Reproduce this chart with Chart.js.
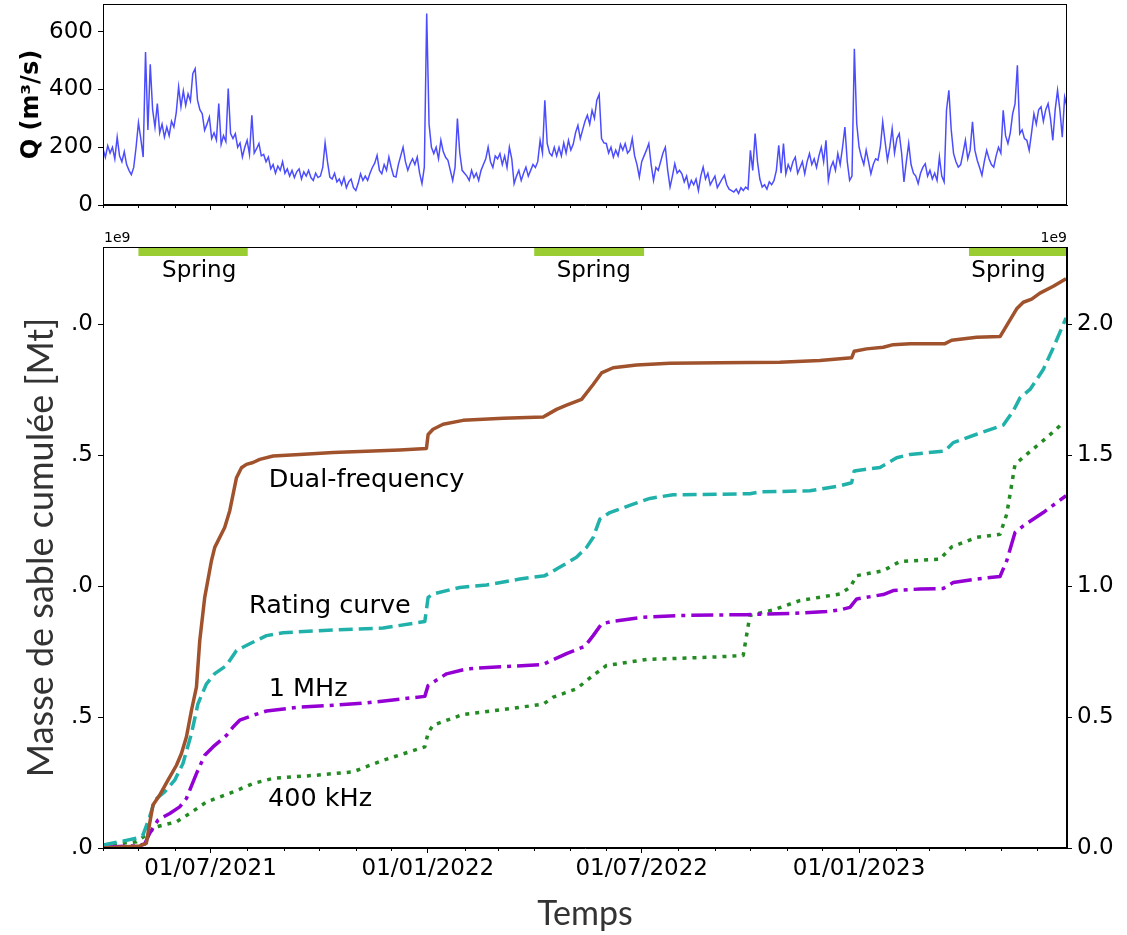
<!DOCTYPE html>
<html>
<head>
<meta charset="utf-8">
<script src="https://cdn.jsdelivr.net/npm/chart.js@4.4.1/dist/chart.umd.min.js"></script>
<style>
  html, body { margin: 0; padding: 0; background: #fff; }
  #wrap { position: relative; width: 1127px; height: 935px; overflow: hidden; background: #fff; }
  canvas { position: absolute; left: 0; }
  #qCanvas { top: 0; }
  #massCanvas { top: 220px; }
</style>
</head>
<body>
<div id="wrap">
  <canvas id="qCanvas" width="1127" height="220"></canvas>
  <canvas id="massCanvas" width="1127" height="715"></canvas>
</div>
<script>
// ---- time axis: days counted from 01/04/2021 ----
const startDate = [2021, 3, 1];
const xMaxDay = 816;

// ---- discharge Q (m3/s), one value every 2 days from day 0 ----
const qStepDays = 2;
const qValues = [
  195, 165, 205, 180, 200, 160, 235, 170, 150, 185,
  140, 120, 105, 130, 200, 285, 230, 166, 530, 260,
  487, 330, 270, 351, 250, 280, 235, 270, 240, 290,
  270, 320, 409, 340, 395, 345, 385, 360, 455, 472,
  363, 330, 316, 259, 280, 305, 230, 250, 225, 351,
  210, 240, 220, 403, 247, 230, 247, 200, 215, 166,
  200, 224, 175, 311, 180, 195, 213, 170, 175, 150,
  166, 125, 140, 110, 135, 120, 150, 110, 125, 100,
  120, 95, 115, 125, 90, 115, 100, 120, 95, 85,
  110, 95, 100, 130, 215, 150, 97, 90, 110, 80,
  90, 70, 95, 60, 80, 90, 60, 50, 75, 108,
  85, 100, 85, 110, 130, 145, 172, 120, 108, 140,
  120, 166, 130, 100, 97, 140, 170, 200, 150, 120,
  143, 160, 140, 166, 110, 74, 131, 663, 280, 200,
  178, 200, 160, 224, 185, 165, 155, 120, 85, 130,
  299, 180, 120, 110, 100, 85, 120, 95, 110, 85,
  120, 140, 160, 200, 150, 130, 170, 160, 178, 140,
  170, 130, 200, 160, 74, 100, 120, 85, 110, 131,
  100, 120, 140, 130, 150, 224, 180, 363, 213, 180,
  170, 200, 170, 200, 170, 215, 180, 224, 190, 210,
  250, 276, 230, 260, 290, 311, 280, 328, 300, 363,
  383, 230, 215, 213, 180, 200, 166, 190, 170, 210,
  190, 213, 180, 190, 230, 170, 140, 97, 150, 170,
  190, 213, 140, 85, 130, 120, 150, 180, 200, 120,
  62, 100, 143, 110, 120, 108, 80, 100, 60, 85,
  70, 90, 50, 100, 131, 90, 110, 70, 85, 100,
  60, 75, 90, 103, 70, 55, 50, 45, 55, 40,
  60, 50, 62, 55, 189, 120, 247, 150, 90, 62,
  70, 55, 80, 70, 85, 120, 207, 110, 213, 108,
  140, 120, 150, 166, 110, 130, 150, 108, 150, 178,
  140, 160, 130, 170, 200, 150, 224, 85, 130, 150,
  120, 178, 140, 200, 270, 150, 85, 100, 541, 282,
  200, 166, 140, 190, 150, 108, 140, 160, 155, 200,
  288, 220, 155, 200, 264, 180, 230, 247, 180, 80,
  150, 213, 140, 110, 100, 74, 110, 130, 143, 100,
  120, 90, 110, 85, 166, 100, 80, 328, 397, 260,
  178, 150, 131, 140, 180, 224, 160, 190, 288, 190,
  155, 130, 103, 150, 189, 160, 140, 131, 170, 200,
  180, 328, 240, 213, 250, 316, 350, 484, 247, 260,
  230, 224, 189, 250, 316, 280, 330, 340, 290, 330,
  351, 300, 224, 330, 397, 328, 235, 374, 340
];

// ---- cumulative sand mass (x 1e9 kg) ----
const dualDays = [0, 31.1, 36.7, 39.5, 42.3, 48, 55, 62.2, 66.4, 70.6,
  74.9, 79.1, 81.9, 86.1, 91.8, 94.6, 103, 107.3, 113, 117.2,
  121.4, 127, 132.7, 144, 166.6, 194.8, 251.2, 273.8, 275.2, 279.4,
  287.9, 304.8, 338.7, 372.6, 375.4, 383.9, 392.4, 405.1, 414.9, 422,
  431.8, 451.6, 479.8, 522.2, 572.9, 606.8, 633.7, 635.9, 646.4, 660.5,
  668.9, 683.1, 712.7, 718.4, 739.5, 759.3, 773.4, 779, 786.1, 793.1,
  804.4, 815.2];
const dualValues = [0, 0.008, 0.018, 0.094, 0.164, 0.202, 0.259, 0.316, 0.361, 0.424,
  0.526, 0.614, 0.792, 0.957, 1.097, 1.148, 1.224, 1.288, 1.414, 1.452,
  1.465, 1.472, 1.484, 1.497, 1.503, 1.510, 1.520, 1.526, 1.579, 1.599,
  1.618, 1.633, 1.641, 1.646, 1.653, 1.675, 1.691, 1.713, 1.770, 1.814,
  1.834, 1.844, 1.851, 1.853, 1.855, 1.862, 1.872, 1.897, 1.906, 1.912,
  1.922, 1.926, 1.926, 1.939, 1.950, 1.953, 2.059, 2.084, 2.096, 2.119,
  2.145, 2.174];

const ratingDays = [0, 14.1, 28.3, 33.9, 39.5, 43.8, 52.2, 60.7, 67.7, 74.9,
  80.4, 87.6, 94.6, 104.5, 113, 124.2, 138.4, 152.4, 194.8, 237.1,
  272.4, 275.2, 279.4, 302, 324.6, 352.8, 374, 383.9, 400.8, 409.3,
  414.9, 420.6, 429, 448.8, 462.9, 482.6, 522.2, 547.6, 556.1, 598.4,
  623.8, 633.7, 635.9, 657.7, 671.8, 683.1, 712.7, 719.7, 739.5, 762.1,
  770.5, 776.2, 784.7, 795.9, 804.4, 815.2];
const ratingValues = [0.011, 0.024, 0.037, 0.050, 0.119, 0.183, 0.214, 0.259, 0.323, 0.437,
  0.551, 0.627, 0.666, 0.697, 0.754, 0.780, 0.811, 0.822, 0.833, 0.840,
  0.865, 0.957, 0.970, 0.995, 1.004, 1.027, 1.040, 1.065, 1.110, 1.148,
  1.186, 1.256, 1.281, 1.313, 1.335, 1.349, 1.351, 1.353, 1.360, 1.364,
  1.383, 1.395, 1.440, 1.453, 1.490, 1.503, 1.516, 1.548, 1.580, 1.615,
  1.669, 1.719, 1.751, 1.827, 1.910, 2.024];

const mhzDays = [0, 28.3, 35.3, 39.5, 46.6, 56.5, 64.9, 70.6, 79.1, 86.1,
  93.1, 104.5, 110.1, 115.7, 127, 138.4, 166.6, 194.8, 223, 272.4,
  275.2, 290.8, 307.7, 333.1, 372.6, 381.1, 392.4, 407.9, 414.9, 422,
  431.8, 457.2, 488.3, 544.8, 584.3, 612.5, 623.8, 632.3, 638, 660.5,
  668.9, 691.5, 711.3, 719.7, 739.5, 759.3, 765, 772, 779, 795.9,
  815.2];
const mhzValues = [0.003, 0.008, 0.015, 0.056, 0.107, 0.132, 0.157, 0.189, 0.284, 0.354,
  0.386, 0.430, 0.462, 0.488, 0.507, 0.523, 0.538, 0.545, 0.554, 0.579,
  0.621, 0.665, 0.684, 0.691, 0.701, 0.719, 0.742, 0.770, 0.811, 0.856,
  0.866, 0.881, 0.888, 0.891, 0.896, 0.903, 0.909, 0.919, 0.951, 0.968,
  0.983, 0.989, 0.991, 1.014, 1.027, 1.037, 1.097, 1.205, 1.230, 1.281,
  1.345];

const khzDays = [0, 16.9, 28.3, 36.7, 45.2, 62.2, 73.4, 87.6, 110.1, 127,
  144, 180.7, 211.7, 237.1, 272.4, 275.2, 279.4, 304.8, 347.2, 372.6,
  381.1, 400.8, 414.9, 426.2, 460.1, 516.5, 541.9, 547.6, 567.3, 589.9,
  623.8, 632.3, 638, 660.5, 674.6, 708.4, 718.4, 739.5, 759.3, 765,
  772, 781.9, 798.8, 812.9];
const khzValues = [0.008, 0.018, 0.024, 0.050, 0.081, 0.100, 0.132, 0.176, 0.214, 0.246,
  0.266, 0.278, 0.291, 0.335, 0.386, 0.440, 0.469, 0.510, 0.534, 0.549,
  0.576, 0.608, 0.659, 0.697, 0.720, 0.729, 0.735, 0.888, 0.909, 0.945,
  0.970, 0.995, 1.040, 1.059, 1.094, 1.103, 1.150, 1.186, 1.198, 1.275,
  1.465, 1.503, 1.567, 1.624];

// ---- spring periods (days) ----
const springStart = [30, 365, 733];
const springEnd = [122.5, 458, 816];
const springLabelDay = [50, 384, 735];
const springLabelValue = [2.182, 2.182, 2.182];

// ---- curve labels ----
const curveLabels = ['Dual-frequency', 'Rating curve', '1 MHz', '400 kHz'];
const curveLabelDay = [140.3, 123.6, 140.3, 139.7];
const curveLabelValue = [1.380, 0.897, 0.581, 0.161];

// ---- axis ticks ----
const qTicks = [0, 200, 400, 600];
const massTicks = [0, 0.5, 1.0, 1.5, 2.0];

// ---------------------------------------------------------------
const DAY_MS = 86400000;
const startUTC = Date.UTC(startDate[0], startDate[1], startDate[2]);
const months = [];
for (let y = 2021; y <= 2023; y++) {
  for (let m = 0; m < 12; m++) {
    const d = (Date.UTC(y, m, 1) - startUTC) / DAY_MS;
    if (d >= 0 && d <= xMaxDay) {
      months.push({ day: d, major: m === 0 || m === 6,
        label: '01/' + String(m + 1).padStart(2, '0') + '/' + y });
    }
  }
}
const majorMonths = months.filter(m => m.major);

Chart.defaults.font.family = 'DejaVu Sans';
Chart.defaults.color = '#000';

const BLACK = '#000';
const TITLE_FONT = 'Lato';

// frame + minor month ticks
const framePlugin = {
  id: 'frame',
  afterDraw(chart) {
    const { ctx, chartArea: a } = chart;
    const xs = chart.scales.x;
    ctx.save();
    ctx.strokeStyle = BLACK;
    ctx.lineWidth = 1;
    ctx.strokeRect(Math.round(a.left) + 0.5, Math.round(a.top) + 0.5,
      Math.round(a.right - a.left) - 1, Math.round(a.bottom - a.top) - 1);
    ctx.beginPath();
    months.filter(m => !m.major).forEach(m => {
      const px = Math.round(xs.getPixelForValue(m.day)) + 0.5;
      ctx.moveTo(px, a.bottom);
      ctx.lineTo(px, a.bottom + 3);
    });
    ctx.stroke();
    ctx.restore();
  }
};

// spring bands, curve labels and offset text
const massTextPlugin = {
  id: 'massText',
  afterDatasetsDraw(chart) {
    const { ctx, chartArea: a } = chart;
    const xs = chart.scales.x, ys = chart.scales.y;
    ctx.save();
    ctx.fillStyle = '#9acd32';
    springStart.forEach((s, i) => {
      const x0 = xs.getPixelForValue(s);
      const x1 = xs.getPixelForValue(springEnd[i]);
      ctx.fillRect(x0, a.top, x1 - x0, 9);
    });
    ctx.fillStyle = BLACK;
    ctx.textBaseline = 'alphabetic';
    ctx.textAlign = 'left';
    ctx.font = '23px "DejaVu Sans"';
    springLabelDay.forEach((d, i) => {
      ctx.fillText('Spring', xs.getPixelForValue(d), ys.getPixelForValue(springLabelValue[i]));
    });
    ctx.font = '25.5px "DejaVu Sans"';
    curveLabels.forEach((t, i) => {
      ctx.fillText(t, xs.getPixelForValue(curveLabelDay[i]), ys.getPixelForValue(curveLabelValue[i]));
    });
    ctx.font = '14px "DejaVu Sans"';
    ctx.fillText('1e9', a.left + 1, a.top - 5);
    ctx.textAlign = 'right';
    ctx.fillText('1e9', a.right, a.top - 5);
    ctx.restore();
  }
};

function noEndPadding(s) {
  s.paddingTop = 0;
  s.paddingBottom = 0;
}

function timeAxis(showLabels, height) {
  return {
    type: 'linear', min: 0, max: xMaxDay,
    afterBuildTicks: s => { s.ticks = majorMonths.map(m => ({ value: m.day })); },
    afterFit: s => { s.height = height; },
    grid: { drawOnChartArea: false, tickLength: 5, tickColor: BLACK, tickWidth: 1 },
    border: { color: BLACK, width: 1 },
    ticks: {
      maxRotation: 0, autoSkip: false, padding: 2,
      font: { size: 23 }, color: BLACK,
      callback: v => {
        if (!showLabels) return '';
        const m = majorMonths.find(mm => mm.day === v);
        return m ? m.label : '';
      }
    }
  };
}

// ---- discharge chart ----
new Chart(document.getElementById('qCanvas'), {
  type: 'line',
  data: {
    datasets: [{
      data: qValues.map((v, i) => ({ x: i * qStepDays, y: v })),
      borderColor: 'rgba(0,0,255,0.7)',
      borderWidth: 1.5,
      pointRadius: 0,
      tension: 0
    }]
  },
  options: {
    responsive: false, animation: false, devicePixelRatio: 1,
    layout: { padding: { left: 0, top: 4, right: 60, bottom: 0 } },
    plugins: { legend: { display: false }, tooltip: { enabled: false } },
    scales: {
      x: timeAxis(false, 15),
      y: {
        min: 0, max: 696,
        afterBuildTicks: s => { s.ticks = qTicks.map(v => ({ value: v })); },
        afterFit: s => { s.width = 103; noEndPadding(s); },
        grid: { drawOnChartArea: false, tickLength: 5, tickColor: BLACK },
        border: { color: BLACK, width: 1 },
        ticks: { padding: 5, font: { size: 23 }, color: BLACK },
        title: {
          display: true, text: 'Q (m³/s)', color: BLACK,
          font: { size: 24, weight: 'bold' },
          padding: { top: 17, bottom: 0 }
        }
      }
    }
  },
  plugins: [framePlugin]
});

// ---- cumulative mass chart ----
function series(days, values, color, dash) {
  return {
    data: days.map((d, i) => ({ x: d, y: values[i] })),
    borderColor: color,
    borderWidth: 3.5,
    borderDash: dash,
    borderCapStyle: 'butt',
    borderJoinStyle: 'round',
    pointRadius: 0,
    tension: 0
  };
}

new Chart(document.getElementById('massCanvas'), {
  type: 'line',
  data: {
    datasets: [
      series(dualDays, dualValues, '#a0522d', []),
      series(ratingDays, ratingValues, '#20b2aa', [14, 6]),
      series(mhzDays, mhzValues, '#9400d3', [22, 6, 4, 6]),
      series(khzDays, khzValues, '#228b22', [4, 6])
    ]
  },
  options: {
    responsive: false, animation: false, devicePixelRatio: 1,
    layout: { padding: { left: 0, top: 27, right: 0, bottom: 0 } },
    plugins: { legend: { display: false }, tooltip: { enabled: false } },
    scales: {
      x: Object.assign(timeAxis(true, 87), {
        title: {
          display: true, text: 'Temps', color: '#333',
          font: { family: TITLE_FONT, size: 34 },
          padding: { top: 0, bottom: 1 }
        }
      }),
      y: {
        position: 'left', min: 0, max: 2.295,
        afterBuildTicks: s => { s.ticks = massTicks.map(v => ({ value: v })); },
        afterFit: s => { s.width = 103; noEndPadding(s); },
        grid: { drawOnChartArea: false, tickLength: 5, tickColor: BLACK },
        border: { color: BLACK, width: 1 },
        ticks: { padding: 5, font: { size: 23 }, color: BLACK,
          callback: v => v.toFixed(1).slice(1) },
        title: {
          display: true, text: 'Masse de sable cumulée [Mt]', color: '#333',
          font: { family: TITLE_FONT, size: 36 },
          padding: { top: 20, bottom: 0 }
        }
      },
      y2: {
        position: 'right', min: 0, max: 2.295,
        afterBuildTicks: s => { s.ticks = massTicks.map(v => ({ value: v })); },
        afterFit: s => { s.width = 60; noEndPadding(s); },
        grid: { drawOnChartArea: false, tickLength: 5, tickColor: BLACK },
        border: { color: BLACK, width: 1 },
        ticks: { padding: 5, font: { size: 23 }, color: BLACK,
          callback: v => v.toFixed(1) }
      }
    }
  },
  plugins: [massTextPlugin, framePlugin]
});
</script>
</body>
</html>
